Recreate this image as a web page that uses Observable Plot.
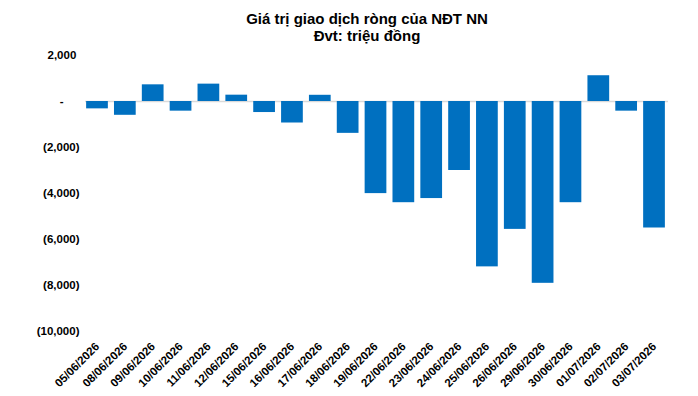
<!DOCTYPE html>
<html>
<head>
<meta charset="utf-8">
<script src="https://cdn.jsdelivr.net/npm/d3@7"></script>
<script src="https://cdn.jsdelivr.net/npm/@observablehq/plot@0.6"></script>
<style>
  html, body { margin: 0; padding: 0; background: #fff; }
  #wrap { width: 698px; height: 396px; overflow: hidden; }
  #title {
    box-sizing: border-box; height: 44px; padding-top: 10px; padding-left: 36px;
    font-family: "Liberation Sans", Arial, sans-serif; font-weight: bold;
    font-size: 15px; line-height: 17px; text-align: center; color: #000;
  }
  #title div { height: 17px; }
  #chart svg text { font-weight: bold; fill: #000; }
</style>
</head>
<body>
<div id="wrap">
  <div id="title"><div>Giá trị giao dịch ròng của NĐT NN</div><div>Đvt: triệu đồng</div></div>
  <div id="chart"></div>
</div>
<script>
const dates = ["05/06/2026","08/06/2026","09/06/2026","10/06/2026","11/06/2026","12/06/2026","15/06/2026","16/06/2026","17/06/2026","18/06/2026","19/06/2026","22/06/2026","23/06/2026","24/06/2026","25/06/2026","26/06/2026","29/06/2026","30/06/2026","01/07/2026","02/07/2026","03/07/2026"];
const values = [-320,-600,725,-420,755,275,-480,-935,270,-1385,-4005,-4400,-4220,-3000,-7190,-5560,-7905,-4400,1120,-420,-5500];
const yTicks = [2000, 0, -2000, -4000, -6000, -8000, -10000];

const data = dates.map((d, i) => ({date: d, value: values[i]}));
const f = d3.format(",");
const fmt = d => d === 0 ? "-" + "\u00a0".repeat(5) : d < 0 ? "(" + f(-d) + ")" : f(d) + "\u00a0";

const chart = Plot.plot({
  width: 698,
  height: 352,
  marginLeft: 80,
  marginRight: 27,
  marginTop: 11,
  marginBottom: 65,
  style: {fontFamily: "'Liberation Sans', Arial, sans-serif", fontSize: "11.5px", color: "#000", background: "#fff"},
  x: {domain: dates, padding: 0.22, round: false, label: null},
  y: {domain: [-10000, 2000], label: null},
  marks: [
    Plot.ruleY([0], {stroke: "#d9d9d9", strokeWidth: 1.5, insetLeft: 5, insetRight: 3}),
    Plot.barY(data, {x: "date", y: "value", fill: "#0070C0"}),
    Plot.axisY({ticks: yTicks, tickSize: 0, tickPadding: 1, tickFormat: fmt, label: null}),
    Plot.axisX({tickSize: 0, tickPadding: 13, tickRotate: -45, dx: 0, label: null})
  ]
});
document.getElementById("chart").appendChild(chart);
</script>
</body>
</html>
